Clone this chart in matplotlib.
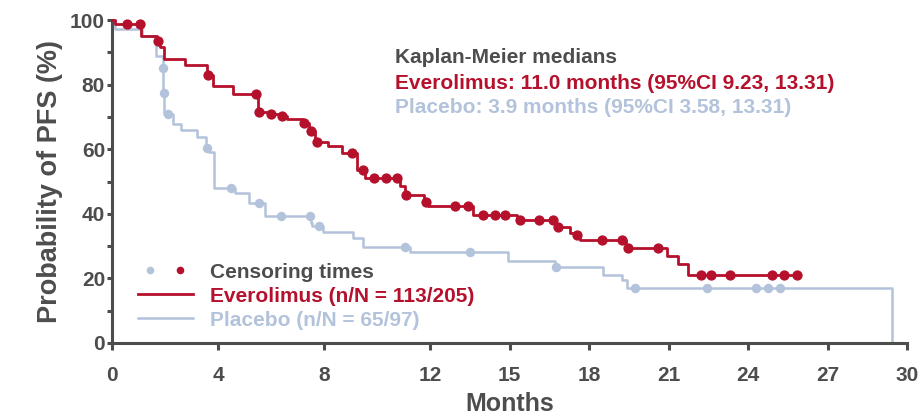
import numpy as np
import matplotlib
matplotlib.use("Agg")
import matplotlib.pyplot as plt
from matplotlib.lines import Line2D
from matplotlib.legend_handler import HandlerTuple

plt.rcParams['font.family'] = ['Liberation Sans', 'DejaVu Sans']
plt.rcParams['font.weight'] = 'bold'
plt.rcParams['axes.labelweight'] = 'bold'

# Kaplan-Meier step data: event times (months) and survival (%) after each step
evero_times = [0.0, 0.10, 1.08, 1.69, 1.80, 1.97, 2.75, 3.57, 3.82, 4.58, 5.50,
               5.90, 6.30, 6.60, 7.20, 7.42, 7.65, 8.16, 8.67, 9.23, 9.55,
               10.87, 11.06, 11.78, 11.92, 13.64, 15.27, 16.75, 17.28, 17.50,
               17.65, 19.40, 20.96, 21.35, 21.72, 25.84]
evero_surv = [100.0, 98.8, 95.1, 93.6, 91.7, 87.8, 86.1, 83.0, 79.7, 77.1, 71.6,
              71.0, 70.4, 69.3, 68.0, 65.7, 62.3, 61.1, 58.7, 53.6, 51.0,
              48.6, 45.8, 43.6, 42.3, 39.6, 38.0, 35.8, 34.2, 33.5,
              31.8, 29.3, 26.9, 24.4, 21.2, 21.2]
evero_censor = [0.57, 1.05, 1.75, 3.62, 5.42, 5.55, 6.00, 6.40, 7.25, 7.50, 7.75,
                9.04, 9.46, 9.89, 10.33, 10.74, 11.10, 11.85, 12.94, 13.45,
                14.01, 14.45, 14.83, 15.40, 16.13, 16.63, 16.84, 17.56, 18.48,
                19.26, 19.49, 20.60, 22.21, 22.59, 23.32, 24.89, 25.36, 25.84]

placebo_times = [0.0, 0.10, 1.12, 1.65, 1.92, 1.94, 1.97, 2.31, 2.60, 3.20, 3.55,
                 3.65, 3.86, 4.64, 5.17, 5.77, 7.50, 7.55, 7.97, 9.10, 9.46,
                 11.25, 14.93, 16.70, 18.54, 19.23, 19.42, 29.42]
placebo_surv = [100.0, 97.3, 95.1, 88.8, 85.0, 77.4, 71.0, 67.8, 65.9, 63.9, 60.3,
                59.2, 47.9, 46.5, 43.2, 39.4, 37.0, 36.2, 34.5, 32.4, 29.8,
                28.1, 25.5, 23.6, 21.0, 19.5, 16.9, 0.0]
placebo_censor = [1.93, 1.95, 2.13, 3.57, 4.49, 5.55, 6.37, 7.47, 7.82, 11.06,
                  13.51, 16.75, 19.74, 22.44, 24.29, 24.74, 25.21]

x_ticks = [0, 4, 8, 12, 15, 18, 21, 24, 27, 30]
y_ticks = [0, 20, 40, 60, 80, 100]
y_minor = [10, 30, 50, 70, 90]

RED = '#b5112c'
BLUE = '#b3c3db'
GREY = '#4d4d4d'


def surv_at(times, surv, t):
    idx = np.searchsorted(times, t, side='right') - 1
    return np.asarray(surv)[idx]


fig = plt.figure(figsize=(9.19, 4.17), dpi=100)
ax = fig.add_axes([112 / 919, 74 / 417, 795 / 919, 323 / 417])

ax.step(placebo_times, placebo_surv, where='post', color=BLUE, lw=1.8,
        zorder=2, clip_on=False)
ax.plot(placebo_censor, surv_at(placebo_times, placebo_surv, placebo_censor),
        'o', color=BLUE, ms=6.8, mew=0, zorder=3, clip_on=False)
ax.step(evero_times, evero_surv, where='post', color=RED, lw=2.0,
        zorder=4, clip_on=False)
ax.plot(evero_censor, surv_at(evero_times, evero_surv, evero_censor),
        'o', color=RED, ms=7.4, mew=0, zorder=5, clip_on=False)

ax.set_xlim(0, 30)
ax.set_ylim(0, 100)
ax.set_xticks(x_ticks)
ax.set_yticks(y_ticks)
ax.set_yticks(y_minor, minor=True)

for side in ('top', 'right'):
    ax.spines[side].set_visible(False)
for side in ('left', 'bottom'):
    ax.spines[side].set_color(GREY)
    ax.spines[side].set_linewidth(2.2)

ax.tick_params(axis='x', which='major', direction='out', length=5, width=2.2,
               color=GREY, labelcolor=GREY, labelsize=15, pad=11.5)
ax.tick_params(axis='y', which='both', direction='out', length=3.5, width=2.2,
               color=GREY, labelcolor=GREY, labelsize=15, pad=1.5)

ax.set_xlabel('Months', fontsize=18, color=GREY, fontweight='bold', labelpad=5)
ax.set_ylabel('Probability of PFS (%)', fontsize=19.5, color=GREY,
              fontweight='bold', labelpad=5)

# Median summary
ax.text(0.356, 0.868, 'Kaplan-Meier medians', transform=ax.transAxes,
        fontsize=15, color=GREY, va='baseline')
ax.text(0.356, 0.785, 'Everolimus: 11.0 months (95%CI 9.23, 13.31)',
        transform=ax.transAxes, fontsize=15, color=RED, va='baseline')
ax.text(0.356, 0.711, 'Placebo: 3.9 months (95%CI 3.58, 13.31)',
        transform=ax.transAxes, fontsize=15, color=BLUE, va='baseline')

# Legend
cens_blue = Line2D([], [], ls='none', marker='o', color=BLUE, ms=5.5, mew=0)
cens_red = Line2D([], [], ls='none', marker='o', color=RED, ms=5.5, mew=0)
line_red = Line2D([], [], color=RED, lw=2.0)
line_blue = Line2D([], [], color=BLUE, lw=1.8)
leg = ax.legend([(cens_blue, cens_red), line_red, line_blue],
                ['Censoring times', 'Everolimus (n/N = 113/205)',
                 'Placebo (n/N = 65/97)'],
                handler_map={tuple: HandlerTuple(ndivide=None, pad=0.27)},
                loc='center left', bbox_to_anchor=(0.0327, 0.1455),
                frameon=False, handlelength=2.62, handletextpad=0.83,
                labelspacing=0.24, borderpad=0, borderaxespad=0, numpoints=1,
                prop=dict(weight='bold', size=15))
for txt, col in zip(leg.get_texts(), [GREY, RED, BLUE]):
    txt.set_color(col)

fig.savefig('out.png', dpi=100)
